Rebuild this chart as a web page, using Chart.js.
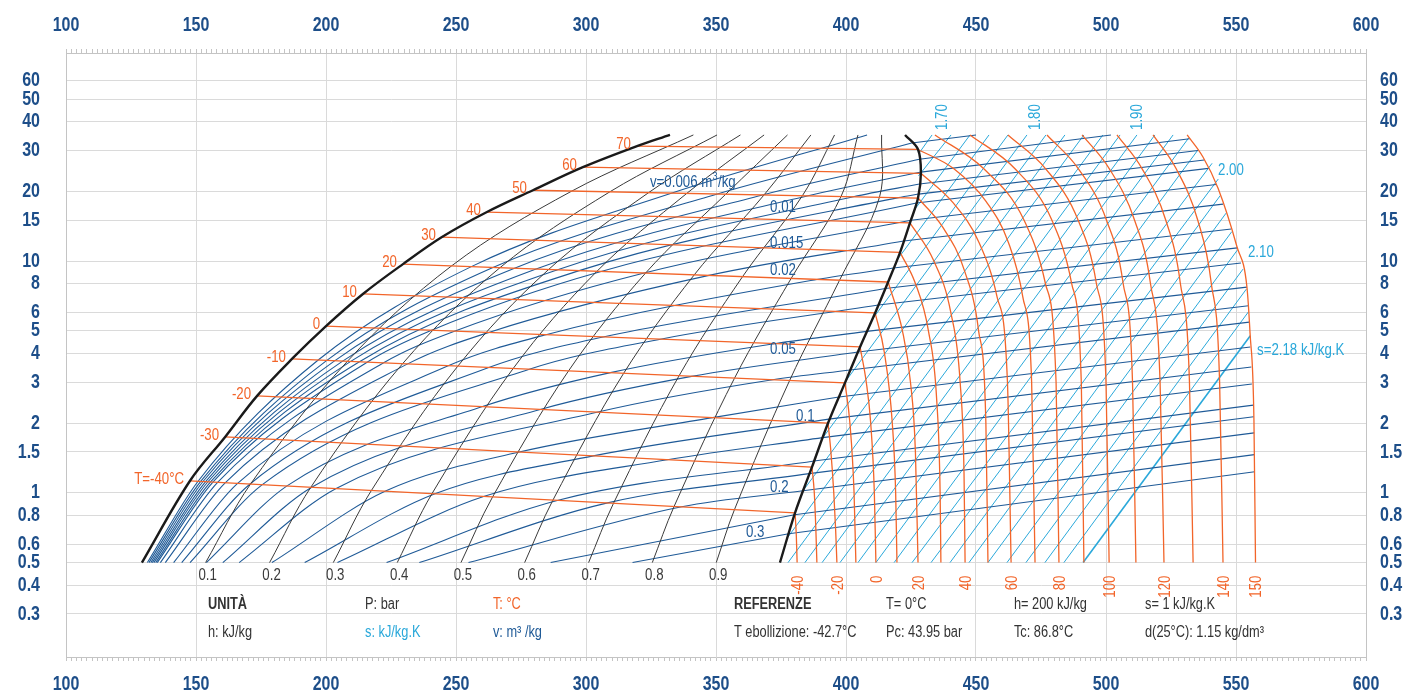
<!DOCTYPE html>
<html lang="it">
<head>
<meta charset="UTF-8">
<title>Diagramma pressione - entalpia</title>
<script src="https://cdn.jsdelivr.net/npm/chart.js@4.4.1/dist/chart.umd.min.js"></script>
<style>
  body { margin: 0; background: #fff; }
  #wrap { width: 1404px; height: 695px; }
</style>
</head>
<body>
<div id="wrap"><canvas id="ph"></canvas></div>
<script>
// axis ticks
const hTicks = [100, 150, 200, 250, 300, 350, 400, 450, 500, 550, 600];
const pTicks = [0.3, 0.4, 0.5, 0.6, 0.8, 1, 1.5, 2, 3, 4, 5, 6, 8, 10, 15, 20, 30, 40, 50, 60];

// saturation: [h kJ/kg, p bar]
const satT   = [-40, -30, -20, -10, 0, 10, 20, 30, 40, 50, 60, 70];
const satLiq = [[147.7,1.127],[161.2,1.743],[173.5,2.62],[186.9,3.78],[200.0,5.24],[214.2,7.21],
                [229.6,9.70],[244.6,12.69],[261.9,16.27],[279.6,20.2],[298.8,25.4],[319.6,31.3]];
const satVap = [[380.4,0.82],[386.9,1.29],[393.1,2.0],[399.6,2.98],[405.4,4.26],[411.2,5.97],
                [416.2,8.12],[420.8,10.9],[424.6,14.6],[427.7,18.7],[428.8,23.9],[427.7,30.3]];
const liqEnds = [[129.2,0.5],[332.3,35]];
const vapEnds = [[374.6,0.5],[422.7,35]];

// superheated isotherms
const vapT = [-40, -30, -20, -10, 0, 10, 20, 30, 40, 50, 60, 70, 80, 90, 100, 110, 120, 130, 140, 150];
const vapIso = [
  [[380.4,0.82],[380.9,0.65],[381.2,0.5]],
  [[386.9,1.29],[387.8,1.0],[388.4,0.7],[388.8,0.5]],
  [[393.1,2.0],[394.2,1.5],[395.3,1.0],[396.0,0.7],[396.5,0.5]],
  [[399.6,2.98],[401.5,2.0],[403.1,1.0],[403.8,0.5]],
  [[405.4,4.26],[407.8,3],[409.5,2],[410.9,1],[411.5,0.5]],
  [[411.2,5.97],[414.8,4],[417.8,2],[419.1,1],[419.6,0.5]],
  [[416.2,8.12],[421.7,5],[424.8,3],[426.7,1.5],[427.7,0.5]],
  [[420.8,10.9],[426.7,8],[431.7,5],[434.9,2.5],[436.2,1],[436.5,0.5]],
  [[424.6,14.6],[433.8,10],[440.3,6],[443.9,3],[445.4,1.2],[445.8,0.5]],
  [[427.7,18.7],[437.2,14],[445.7,9],[451.0,5],[453.8,2],[454.6,0.5]],
  [[428.8,23.9],[440.9,18],[451.2,12],[458.1,7],[462.1,3],[463.5,0.5]],
  [[427.7,30.3],[441.5,25],[454.0,18],[462.5,12],[468.0,7],[471.4,3],[472.7,0.5]],
  [[434.2,35],[453.0,25],[468.5,15],[476.7,8],[480.8,3],[481.9,0.5]],
  [[447.7,35],[465.0,25],[479.2,15],[486.8,8],[490.5,3],[491.5,0.5]],
  [[462.3,35],[476.8,25],[489.3,15],[496.3,8],[500.0,3],[501.2,0.5]],
  [[477.3,35],[489.4,25],[500.2,15],[506.6,8],[510.2,3],[511.5,0.5]],
  [[490.8,35],[501.3,25],[511.0,15],[517.1,8],[520.8,3],[522.3,0.5]],
  [[504.2,35],[513.9,25],[523.0,15],[528.6,8],[532.1,3],[533.5,0.5]],
  [[518.1,35],[527.0,25],[535.3,15],[540.5,8],[543.7,3],[545.0,0.5]],
  [[531.2,35],[537.3,28.1],[543.1,20.6],[550.4,11.5],[554.2,7.73],[555.4,4.89],[556.9,2.06],[557.5,0.5]]
];
const vapLabelT = [-40, -20, 0, 20, 40, 60, 80, 100, 120, 140, 150];

// vapour quality lines
const qualX = [0.1, 0.2, 0.3, 0.4, 0.5, 0.6, 0.7, 0.8, 0.9];
const qualPts = [
  [[153.7,0.5],[171.0,1.092],[208.2,3.69],[248.3,9.53],[294.4,20.0],[341.3,35]],
  [[178.3,0.5],[194.2,1.058],[229.4,3.60],[266.9,9.36],[309.2,19.9],[350.4,35]],
  [[202.8,0.5],[217.5,1.025],[250.7,3.52],[285.6,9.19],[324.0,19.7],[359.4,35]],
  [[227.4,0.5],[240.8,0.993],[272.0,3.44],[304.2,9.03],[338.8,19.6],[368.5,35]],
  [[251.9,0.5],[264.1,0.961],[293.3,3.36],[322.9,8.87],[353.7,19.4],[377.5,35]],
  [[276.4,0.5],[287.3,0.931],[314.5,3.28],[341.6,8.71],[368.5,19.3],[386.5,35]],
  [[301.0,0.5],[310.6,0.902],[335.8,3.20],[360.2,8.56],[383.3,19.2],[395.6,35]],
  [[325.5,0.5],[333.9,0.874],[357.1,3.12],[378.9,8.41],[398.1,19.0],[404.6,35]],
  [[350.1,0.5],[357.1,0.846],[378.3,3.05],[397.5,8.26],[412.9,18.9],[413.7,35]]
];

// isochores (m3/kg): wet part ends on the dew line, then runs to the end point
const isoV = [0.004, 0.005, 0.006, 0.007, 0.008, 0.009, 0.01, 0.012, 0.015, 0.02, 0.025, 0.03,
              0.04, 0.05, 0.06, 0.08, 0.1, 0.12, 0.15, 0.17, 0.2, 0.25, 0.3];
const isoWet = [
  [[131.3,0.5],[150.8,1.122],[197.0,3.74],[255.9,9.46],[333.1,19.65],[408.1,35]],
  [[131.9,0.5],[151.8,1.12],[200.2,3.72],[264.2,9.38],[350.5,19.47],[425.3,32.3]],
  [[132.6,0.5],[152.7,1.119],[203.3,3.71],[272.5,9.31],[367.9,19.29],[428.2,27.5]],
  [[133.2,0.5],[153.7,1.118],[206.4,3.70],[280.8,9.24],[385.4,19.12],[428.8,24.2]],
  [[133.8,0.5],[154.6,1.116],[209.5,3.69],[289.1,9.17],[402.8,18.94],[428.3,21.5]],
  [[134.5,0.5],[155.6,1.114],[212.7,3.67],[297.4,9.09],[420.2,18.77],[427.9,19.45]],
  [[135.1,0.5],[156.5,1.113],[215.8,3.66],[240.6,5.03],[305.8,9.02],[427.1,17.8]],
  [[136.3,0.5],[158.4,1.111],[222.0,3.63],[249.4,4.98],[322.4,8.88],[425.0,15.0]],
  [[138.2,0.5],[161.3,1.106],[231.4,3.60],[262.6,4.92],[347.3,8.67],[422.2,12.2]],
  [[141.4,0.5],[166.0,1.099],[247.0,3.53],[284.6,4.81],[388.8,8.33],[418.3,9.33]],
  [[144.5,0.5],[170.8,1.092],[262.6,3.47],[306.6,4.70],[415.1,7.61]],
  [[147.7,0.5],[175.5,1.085],[278.2,3.41],[328.6,4.60],[412.5,6.46]],
  [[154.0,0.5],[185.0,1.071],[260.2,2.355],[309.4,3.30],[372.5,4.40],[408.0,4.97]],
  [[160.3,0.5],[194.5,1.057],[282.4,2.29],[340.6,3.18],[404.6,4.05]],
  [[166.6,0.5],[203.9,1.044],[304.6,2.23],[371.8,3.075],[401.7,3.39]],
  [[179.2,0.5],[222.9,1.017],[274.3,1.499],[348.7,2.11],[397.3,2.59]],
  [[191.8,0.5],[241.9,0.991],[302.8,1.443],[393.4,2.08]],
  [[204.4,0.5],[260.9,0.966],[331.3,1.389],[391.0,1.73]],
  [[223.3,0.5],[289.3,0.929],[387.7,1.372]],
  [[235.9,0.5],[308.3,0.905],[385.9,1.21]],
  [[254.8,0.5],[336.8,0.870],[383.5,1.02]],
  [[286.4,0.5],[380.2,0.804]],
  [[317.9,0.5],[378.0,0.666]]
];
const isoDryEnd = [null, [450.0,35], [501.9,35], [532.2,33.7], [535.4,30.0], [537.8,27.3], [539.4,25.1],
  [542.4,21.4], [545.0,17.6], [548.2,13.74], [550.5,11.4], [551.9,9.81], [554.2,7.72], [554.8,6.41],
  [555.1,5.45], [555.5,4.26], [555.9,3.49], [556.1,2.95], [556.7,2.39], [556.8,2.13], [557.0,1.814],
  [557.1,1.462], [557.2,1.232]];

// isentropes (kJ/kg.K)
const isoS = [1.68, 1.70, 1.72, 1.74, 1.76, 1.78, 1.80, 1.82, 1.84, 1.86, 1.88, 1.90, 1.92,
              1.94, 1.96, 1.98, 2.00, 2.02, 2.04, 2.06, 2.08, 2.10, 2.12, 2.14, 2.16, 2.18];
const isoSStart = [[428.1,29.2],[427.9,23.3],[426.1,16.5],[419.7,10.13],[410.2,5.62],[400.0,3.045],
  [390.8,1.711],[383.6,1.025],[377.6,0.643],[377.7,0.5],[384.2,0.5],[390.8,0.5],[397.7,0.5],
  [404.6,0.5],[411.5,0.5],[418.5,0.5],[425.4,0.5],[432.7,0.5],[440.0,0.5],[447.3,0.5],
  [454.6,0.5],[461.9,0.5],[469.2,0.5],[476.5,0.5],[483.8,0.5],[491.2,0.5]];
const isoSEnd = [[433.1,35],[440.4,35],[447.7,35],[455.0,35],[462.3,35],[469.6,35],[476.9,35],
  [484.2,35],[491.5,35],[498.8,35],[505.4,35],[511.9,35],[518.8,35],[525.8,35],[531.9,34.1],
  [535.3,30.1],[540.8,26.4],[543.2,22.6],[544.0,19.2],[546.2,16.1],[548.4,13.4],[550.5,11.14],
  [552.7,9.23],[554.0,7.57],[554.8,6.04],[555.5,4.76]];

// info table
const tabCol  = [154.6, 215.0, 264.2, 356.9, 415.4, 464.6, 515.0];
const tabRow1 = ['UNITÀ', 'P: bar', 'T: °C', 'REFERENZE', 'T= 0°C', 'h= 200 kJ/kg', 's= 1 kJ/kg.K'];
const tabRow2 = ['h: kJ/kg', 's: kJ/kg.K', 'v: m³ /kg', 'T ebollizione: -42.7°C', 'Pc: 43.95 bar', 'Tc: 86.8°C', 'd(25°C): 1.15 kg/dm³'];

const ORANGE = '#f2652a', BLUE = '#1f5a97', CYAN = '#2aa8da', QUAL = '#3a3a3a', DOME = '#1a1a1a';
const AXCOL = '#1d4e89', GRID = '#dadada', FRAME = '#c4c4c4', TXT = '#333333';
const FAM = '"Liberation Sans", Arial, sans-serif';

const dsets = [];
// mode: 0 straight, 1 monotone, 2 bezier
function addLine(pts, color, width, order, mode) {
  dsets.push({
    data: pts.map(q => ({x: q[0], y: q[1]})),
    showLine: true, borderColor: color, borderWidth: width,
    pointRadius: 0, pointHoverRadius: 0, fill: false, order: order,
    cubicInterpolationMode: mode === 1 ? 'monotone' : 'default',
    tension: mode === 2 ? 0.35 : 0
  });
}

isoS.forEach((s, i) => addLine([isoSStart[i], isoSEnd[i]], CYAN, s === 2.18 ? 1.6 : 1, 6, 0));
isoV.forEach((v, i) => {
  const wet = isoWet[i];
  addLine(wet, BLUE, 1.1, 5, 1);
  if (isoDryEnd[i]) addLine([wet[wet.length - 1], isoDryEnd[i]], BLUE, 1.1, 5, 0);
});
qualX.forEach((q, i) => addLine(qualPts[i], QUAL, 1, 4, 2));
satT.forEach((t, i) => addLine([satLiq[i], satVap[i]], ORANGE, 1.3, 3, 0));
vapT.forEach((t, i) => addLine(vapIso[i], ORANGE, 1.3, 3, 1));
addLine([liqEnds[0], ...satLiq, liqEnds[1]], DOME, 2.4, 1, 2);
addLine([vapEnds[0], ...satVap, vapEnds[1]], DOME, 2.4, 1, 2);

function txt(ctx, s, x, y, o) {
  ctx.save();
  ctx.translate(x, y);
  if (o.rot) ctx.rotate(o.rot);
  ctx.scale(o.sx || 0.8, 1);
  ctx.font = o.font;
  ctx.fillStyle = o.color;
  ctx.textAlign = o.align || 'left';
  ctx.textBaseline = o.base || 'alphabetic';
  ctx.fillText(s, 0, 0);
  ctx.restore();
}

const labelPlugin = {
  id: 'phLabels',
  afterDraw(chart) {
    const ctx = chart.ctx, area = chart.chartArea;
    const X = h => chart.scales.x.getPixelForValue(h);
    const Y = p => chart.scales.y.getPixelForValue(p);
    const ax = {font: 'bold 20px ' + FAM, color: AXCOL, base: 'middle'};

    hTicks.forEach(h => {
      txt(ctx, String(h), X(h), area.top - 28, {...ax, align: 'center'});
      txt(ctx, String(h), X(h), area.bottom + 27, {...ax, align: 'center'});
    });
    pTicks.forEach(p => {
      txt(ctx, String(p), area.left - 26, Y(p), {...ax, align: 'right'});
      txt(ctx, String(p), area.right + 14, Y(p), {...ax, align: 'left'});
    });

    const f17 = '17px ' + FAM;
    // saturation temperatures on the liquid line
    satT.forEach((t, i) => {
      const s = i === 0 ? 'T=-40°C' : String(t);
      txt(ctx, s, X(satLiq[i][0]) - 6, Y(satLiq[i][1]) + 3, {font: f17, color: ORANGE, align: 'right', sx: 0.78});
    });
    // superheated isotherm labels at the bottom
    vapT.forEach((t, i) => {
      if (!vapLabelT.includes(t)) return;
      const pts = vapIso[i], b = pts[pts.length - 1];
      txt(ctx, String(t), X(b[0]) + 1, Y(0.5) + 13, {font: f17, color: ORANGE, align: 'right', base: 'middle', rot: -Math.PI / 2, sx: 0.78});
    });
    // quality labels
    qualX.forEach((q, i) => {
      txt(ctx, String(q), X(qualPts[i][0][0]) + 2, Y(0.5) + 17, {font: f17, color: QUAL, align: 'center', sx: 0.78});
    });
    // isochore labels
    const vl = [['0.01',370.8,16.3],['0.015',370.8,11.4],['0.02',370.8,8.7],['0.05',370.8,3.97],
                ['0.1',380.8,2.04],['0.2',370.8,1.01],['0.3',361.5,0.646]];
    vl.forEach(l => txt(ctx, l[0], X(l[1]), Y(l[2]), {font: f17, color: BLUE, sx: 0.78}));
    // v=0.006 m3/kg with superscript
    const x0 = X(324.6), y0 = Y(20.8);
    ctx.save();
    ctx.font = f17;
    const w1 = ctx.measureText('v=0.006 m').width * 0.78;
    ctx.font = '11px ' + FAM;
    const w2 = ctx.measureText('3').width * 0.78;
    ctx.restore();
    txt(ctx, 'v=0.006 m', x0, y0, {font: f17, color: BLUE, sx: 0.78});
    txt(ctx, '3', x0 + w1 + 0.5, y0 - 7, {font: '11px ' + FAM, color: BLUE, sx: 0.78});
    txt(ctx, '/kg', x0 + w1 + w2 + 1, y0, {font: f17, color: BLUE, sx: 0.78});

    // isentrope labels
    [['1.70',436.9],['1.80',472.7],['1.90',511.9]].forEach(l => {
      txt(ctx, l[0], X(l[1]), Y(35) - 5, {font: f17, color: CYAN, base: 'middle', rot: -Math.PI / 2, sx: 0.78});
    });
    txt(ctx, '2.00', X(543.1), Y(23.5), {font: f17, color: CYAN, sx: 0.78});
    txt(ctx, '2.10', X(554.6), Y(10.4), {font: f17, color: CYAN, sx: 0.78});
    txt(ctx, 's=2.18 kJ/kg.K', X(558.1), Y(3.93), {font: f17, color: CYAN, sx: 0.78});

    // info table
    const c1 = [TXT, TXT, ORANGE, TXT, TXT, TXT, TXT];
    const c2 = [TXT, CYAN, BLUE, TXT, TXT, TXT, TXT];
    tabCol.forEach((h, i) => {
      const bold = (i === 0 || i === 3) ? 'bold ' : '';
      txt(ctx, tabRow1[i], X(h), Y(0.316), {font: bold + '16px ' + FAM, color: c1[i], sx: 0.8});
      txt(ctx, tabRow2[i], X(h), Y(0.2394), {font: '16px ' + FAM, color: c2[i], sx: 0.8});
    });
  }
};

new Chart(document.getElementById('ph'), {
  type: 'scatter',
  data: { datasets: dsets },
  options: {
    responsive: true,
    maintainAspectRatio: false,
    animation: false,
    events: [],
    layout: { padding: 0 },
    plugins: { legend: { display: false }, tooltip: { enabled: false } },
    scales: {
      x: {
        type: 'linear', position: 'bottom', min: 100, max: 600,
        ticks: { stepSize: 2, display: false, autoSkip: false },
        grid: {
          color: c => (c.tick && c.tick.value % 50 === 0) ? GRID : 'rgba(0,0,0,0)',
          tickColor: FRAME, tickLength: 4
        },
        border: { color: FRAME },
        afterFit: s => { s.height = 38; }
      },
      x2: {
        type: 'linear', position: 'top', min: 100, max: 600,
        ticks: { stepSize: 2, display: false, autoSkip: false },
        grid: { drawOnChartArea: false, tickColor: FRAME, tickLength: 4 },
        border: { color: FRAME },
        afterFit: s => { s.height = 53; }
      },
      y: {
        type: 'logarithmic', position: 'left', min: 0.1957, max: 79,
        afterBuildTicks: s => { s.ticks = pTicks.map(v => ({ value: v })); },
        ticks: { display: false },
        grid: { color: GRID, drawTicks: false },
        border: { color: FRAME },
        afterFit: s => { s.width = 66; }
      },
      y2: {
        type: 'logarithmic', position: 'right', min: 0.1957, max: 79,
        afterBuildTicks: s => { s.ticks = pTicks.map(v => ({ value: v })); },
        ticks: { display: false },
        grid: { drawOnChartArea: false, drawTicks: false },
        border: { color: FRAME },
        afterFit: s => { s.width = 38; }
      }
    }
  },
  plugins: [labelPlugin]
});
</script>
</body>
</html>
